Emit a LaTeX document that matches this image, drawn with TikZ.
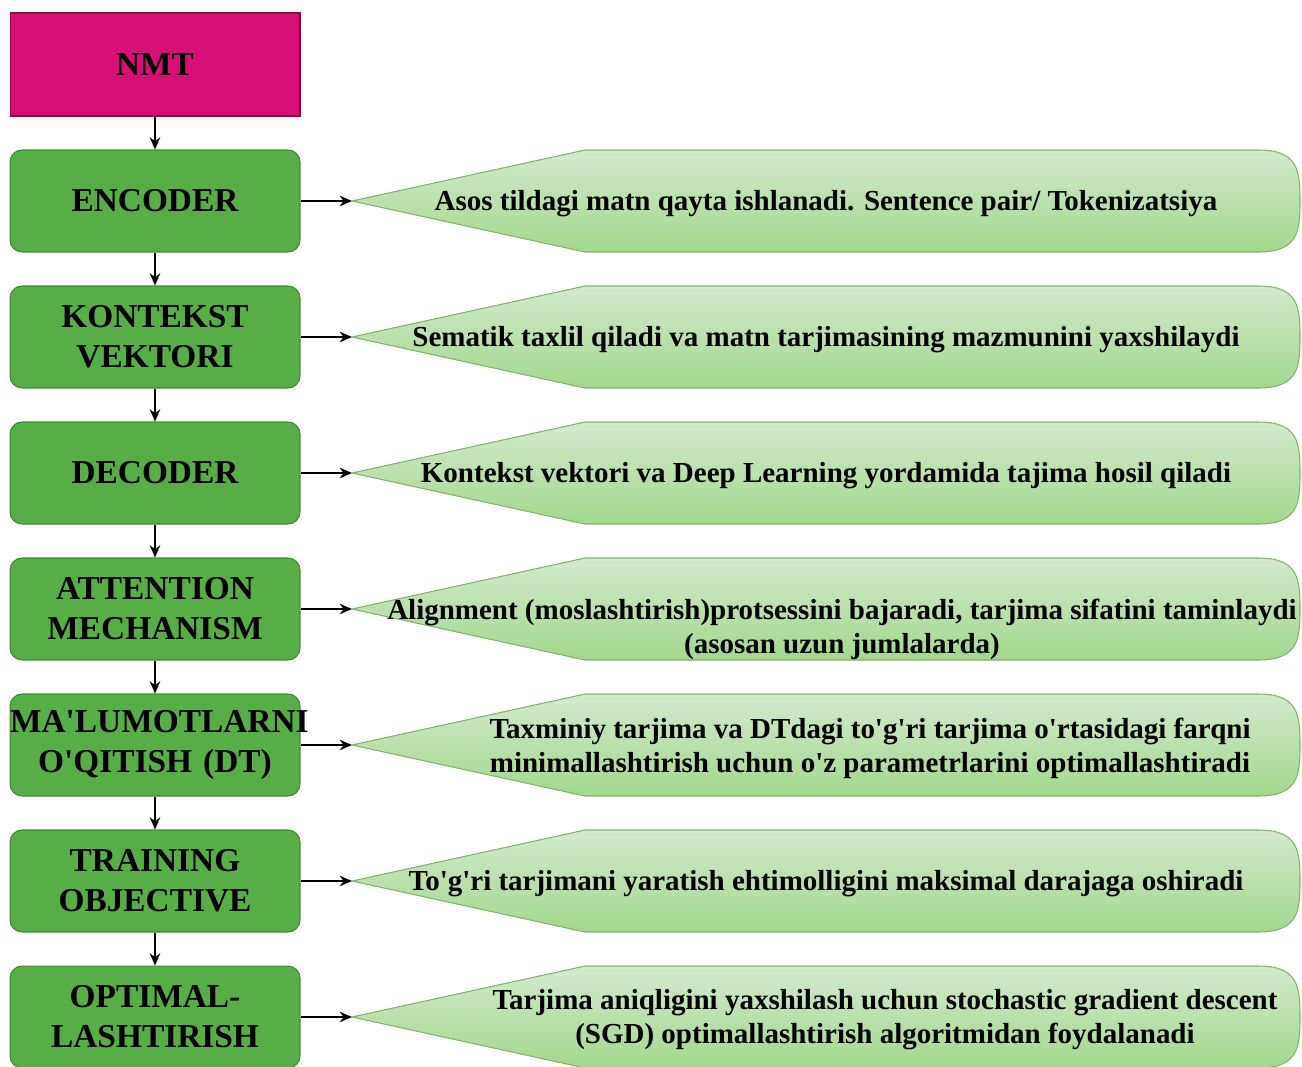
\documentclass[tikz,border=0pt]{standalone}
\usepackage{fontspec}
\setmainfont{Liberation Serif}[Ligatures=TeXOff]
\usetikzlibrary{arrows.meta}
\definecolor{nmtfill}{HTML}{D80F76}
\definecolor{nmtline}{HTML}{A50040}
\definecolor{stagefill}{HTML}{58AE46}
\definecolor{stageline}{HTML}{3F8A33}
\definecolor{calltop}{HTML}{D2EACD}
\definecolor{callbot}{HTML}{A2D88E}
\definecolor{callline}{HTML}{82B366}
\tikzset{
  stage/.style={draw=stageline,fill=stagefill,rounded corners=0.24cm,
    text width=5.8cm,minimum height=2.04cm,inner sep=0pt,align=center,
    line width=0.6pt,font=\fontsize{19}{22.8}\selectfont\bfseries},
  root/.style={stage,draw=nmtline,fill=nmtfill,rounded corners=0pt,minimum height=2.06cm},
  callout/.style={draw=callline,top color=calltop,bottom color=callbot,line width=0.6pt},
  note/.style={inner sep=0pt,align=center,font=\fontsize{16.5}{19.4}\selectfont\bfseries},
  flow/.style={-{Stealth[length=7pt,width=6pt]},line width=0.8pt}
}

\begin{document}
\begin{tikzpicture}[x=0.02cm,y=-0.02cm]
\useasboundingbox (0,0) rectangle (1302,1066);
% left column
\node[root] (nmt) at (155,64.5) {NMT};
\node[stage] (enc) at (155,201) {ENCODER};
\node[stage] (ctx) at (155,337) {KONTEKST\\VEKTORI};
\node[stage] (dec) at (155,473) {DECODER};
\node[stage] (att) at (155,609) {ATTENTION\\MECHANISM};
\node[stage] (dat) at (155,745) {MA'LUMOTLARNI\\O'QITISH (DT)};
\node[stage] (obj) at (155,881) {TRAINING\\OBJECTIVE};
\node[stage] (opt) at (155,1017) {OPTIMAL-\\LASHTIRISH};
% callouts
\draw[callout] (352,201) coordinate (t1) -- (585,150) -- (1258,150) .. controls (1298,150) and (1300,170) .. (1300,201) .. controls (1300,232) and (1298,252) .. (1258,252) -- (585,252) -- cycle;
\draw[callout] (352,337) coordinate (t2) -- (585,286) -- (1258,286) .. controls (1298,286) and (1300,306) .. (1300,337) .. controls (1300,368) and (1298,388) .. (1258,388) -- (585,388) -- cycle;
\draw[callout] (352,473) coordinate (t3) -- (585,422) -- (1258,422) .. controls (1298,422) and (1300,442) .. (1300,473) .. controls (1300,504) and (1298,524) .. (1258,524) -- (585,524) -- cycle;
\draw[callout] (352,609) coordinate (t4) -- (585,558) -- (1258,558) .. controls (1298,558) and (1300,578) .. (1300,609) .. controls (1300,640) and (1298,660) .. (1258,660) -- (585,660) -- cycle;
\draw[callout] (352,745) coordinate (t5) -- (585,694) -- (1258,694) .. controls (1298,694) and (1300,714) .. (1300,745) .. controls (1300,776) and (1298,796) .. (1258,796) -- (585,796) -- cycle;
\draw[callout] (352,881) coordinate (t6) -- (585,830) -- (1258,830) .. controls (1298,830) and (1300,850) .. (1300,881) .. controls (1300,912) and (1298,932) .. (1258,932) -- (585,932) -- cycle;
\draw[callout] (352,1017) coordinate (t7) -- (585,966) -- (1258,966) .. controls (1298,966) and (1300,986) .. (1300,1017) .. controls (1300,1048) and (1298,1068) .. (1258,1068) -- (585,1068) -- cycle;
\node[note] (n1) at (826,204) {Asos tildagi matn qayta ishlanadi. Sentence pair/ Tokenizatsiya};
\node[note] (n2) at (826,340) {Sematik taxlil qiladi va matn tarjimasining mazmunini yaxshilaydi};
\node[note] (n3) at (826,476) {Kontekst vektori va Deep Learning yordamida tajima hosil qiladi};
\node[note] (n4) at (842,629) {Alignment (moslashtirish)protsessini bajaradi, tarjima sifatini taminlaydi\\(asosan uzun jumlalarda)};
\node[note] (n5) at (870,748) {Taxminiy tarjima va DTdagi to'g'ri tarjima o'rtasidagi farqni\\minimallashtirish uchun o'z parametrlarini optimallashtiradi};
\node[note] (n6) at (826,884) {To'g'ri tarjimani yaratish ehtimolligini maksimal darajaga oshiradi};
\node[note] (n7) at (885,1020) {Tarjima aniqligini yaxshilash uchun stochastic gradient descent\\(SGD) optimallashtirish algoritmidan foydalanadi};
% connectors
\draw[flow] (nmt) -- (enc);
\draw[flow] (enc) -- (ctx);
\draw[flow] (ctx) -- (dec);
\draw[flow] (dec) -- (att);
\draw[flow] (att) -- (dat);
\draw[flow] (dat) -- (obj);
\draw[flow] (obj) -- (opt);
\draw[flow] (enc.east) -- (t1);
\draw[flow] (ctx.east) -- (t2);
\draw[flow] (dec.east) -- (t3);
\draw[flow] (att.east) -- (t4);
\draw[flow] (dat.east) -- (t5);
\draw[flow] (obj.east) -- (t6);
\draw[flow] (opt.east) -- (t7);
\end{tikzpicture}
\end{document}
